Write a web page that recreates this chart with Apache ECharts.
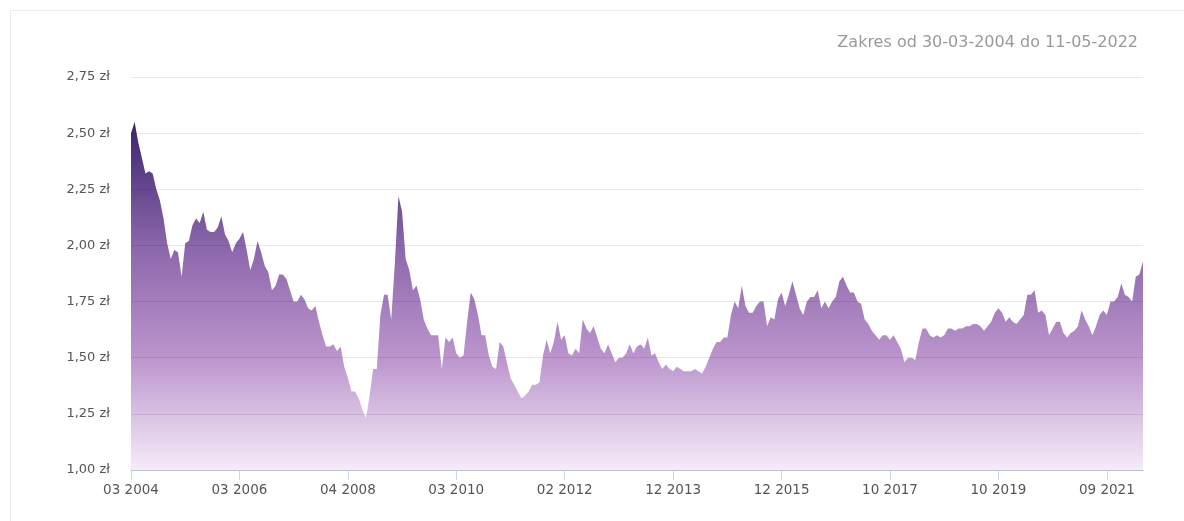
<!DOCTYPE html>
<html>
<head>
<meta charset="utf-8">
<script src="https://cdn.jsdelivr.net/npm/echarts@6/dist/echarts.min.js"></script>
<style>
  html, body { margin: 0; padding: 0; background: #fff; }
  .frame {
    position: absolute; left: 10px; top: 10px; width: 1200px; height: 600px;
    border-top: 1px solid #ececec; border-left: 1px solid #ececec;
  }
  #chart { position: absolute; left: 0; top: 0; width: 1184px; height: 521px; }
</style>
</head>
<body>
<div class="frame"></div>
<div id="chart"></div>
<script>
// kurs w zł (od 03 2004 do 05 2022)
const prices = [
  2.50, 2.55, 2.46, 2.39, 2.32, 2.33, 2.32, 2.25, 2.20, 2.12,
  2.01, 1.94, 1.98, 1.97, 1.86, 2.01, 2.02, 2.09, 2.12, 2.10,
  2.15, 2.07, 2.06, 2.06, 2.08, 2.13, 2.05, 2.02, 1.97, 2.01,
  2.03, 2.06, 1.98, 1.89, 1.94, 2.02, 1.97, 1.91, 1.88, 1.80,
  1.82, 1.87, 1.87, 1.85, 1.80, 1.75, 1.75, 1.78, 1.76, 1.72,
  1.71, 1.73, 1.66, 1.60, 1.55, 1.55, 1.56, 1.53, 1.55, 1.46,
  1.41, 1.35, 1.35, 1.32, 1.27, 1.23, 1.33, 1.45, 1.45, 1.69,
  1.78, 1.78, 1.67, 1.92, 2.22, 2.15, 1.94, 1.89, 1.80, 1.82,
  1.76, 1.67, 1.63, 1.60, 1.60, 1.60, 1.45, 1.59, 1.57, 1.59,
  1.52, 1.50, 1.51, 1.66, 1.79, 1.76, 1.69, 1.60, 1.60, 1.51,
  1.46, 1.45, 1.57, 1.55, 1.48, 1.41, 1.38, 1.35, 1.32, 1.33,
  1.35, 1.38, 1.38, 1.39, 1.51, 1.58, 1.52, 1.57, 1.66, 1.58,
  1.60, 1.52, 1.51, 1.54, 1.52, 1.67, 1.63, 1.61, 1.64, 1.59,
  1.54, 1.52, 1.56, 1.52, 1.48, 1.50, 1.50, 1.52, 1.56, 1.52,
  1.55, 1.56, 1.54, 1.59, 1.51, 1.52, 1.48, 1.45, 1.47, 1.45,
  1.44, 1.46, 1.45, 1.44, 1.44, 1.44, 1.45, 1.44, 1.43, 1.46,
  1.50, 1.54, 1.57, 1.57, 1.59, 1.59, 1.69, 1.75, 1.72, 1.82,
  1.73, 1.70, 1.70, 1.73, 1.75, 1.75, 1.64, 1.68, 1.67, 1.76,
  1.79, 1.73, 1.78, 1.84, 1.78, 1.72, 1.69, 1.75, 1.77, 1.77,
  1.80, 1.72, 1.75, 1.72, 1.75, 1.77, 1.84, 1.86, 1.82, 1.79,
  1.79, 1.75, 1.74, 1.67, 1.65, 1.62, 1.60, 1.58, 1.60, 1.60,
  1.58, 1.60, 1.57, 1.54, 1.48, 1.50, 1.50, 1.49, 1.57, 1.63,
  1.63, 1.60, 1.59, 1.60, 1.59, 1.60, 1.63, 1.63, 1.62, 1.63,
  1.63, 1.64, 1.64, 1.65, 1.65, 1.64, 1.62, 1.64, 1.66, 1.70,
  1.72, 1.70, 1.66, 1.68, 1.66, 1.65, 1.67, 1.69, 1.78, 1.78,
  1.80, 1.70, 1.71, 1.69, 1.60, 1.63, 1.66, 1.66, 1.61, 1.59,
  1.61, 1.62, 1.64, 1.71, 1.67, 1.64, 1.60, 1.64, 1.69, 1.71,
  1.69, 1.75, 1.75, 1.77, 1.83, 1.78, 1.77, 1.75, 1.86, 1.87,
  1.93
];

// opisy osi X, co 30 punktów
const tickLabels = ['03 2004', '03 2006', '04 2008', '03 2010', '02 2012',
  '12 2013', '12 2015', '10 2017', '10 2019', '09 2021'];
const labelStep = 30;
const categories = prices.map((_, i) => String(i));

const chart = echarts.init(document.getElementById('chart'));

const font = "'DejaVu Sans', sans-serif";

chart.setOption({
  animation: false,
  title: {
    text: 'Zakres od 30-03-2004 do 11-05-2022',
    right: 41,
    top: 30,
    textStyle: { color: '#999', fontSize: 16, fontWeight: 'normal', fontFamily: font }
  },
  grid: { left: 131, right: 41, top: 77, bottom: 51 },
  xAxis: {
    type: 'category',
    data: categories,
    boundaryGap: false,
    axisLine: { lineStyle: { color: '#ccd6eb', width: 1 } },
    axisTick: { show: true, interval: labelStep - 1, length: 10, lineStyle: { color: '#ccd6eb' } },
    axisLabel: {
      interval: labelStep - 1,
      margin: 13,
      color: '#555',
      fontSize: 13.5,
      fontFamily: font,
      formatter: (v, idx) => idx % labelStep === 0 ? tickLabels[idx / labelStep] : ''
    },
    splitLine: { show: false }
  },
  yAxis: {
    type: 'value',
    min: 1,
    max: 2.75,
    interval: 0.25,
    z: 3,
    axisLine: { show: false },
    axisTick: { show: false },
    axisLabel: {
      margin: 21,
      color: '#555',
      fontSize: 13,
      fontFamily: font,
      formatter: v => v.toFixed(2).replace('.', ',') + ' zł'
    },
    splitLine: { lineStyle: { color: 'rgba(0,0,0,0.09)', width: 1 } }
  },
  series: [
    {
      type: 'line',
      data: prices,
      showSymbol: false,
      symbol: 'none',
      sampling: 'none',
      z: 2,
      lineStyle: { width: 0, opacity: 0 },
      areaStyle: {
        opacity: 1,
        color: {
          type: 'linear',
          x: 0, y: 0, x2: 0, y2: 1,
          colorStops: [
            { offset: 0, color: '#3a246e' },
            { offset: 0.35, color: '#8a65aa' },
            { offset: 0.68, color: '#bc95cd' },
            { offset: 1, color: '#f5ecf8' }
          ]
        }
      }
    }
  ]
});
</script>
</body>
</html>
